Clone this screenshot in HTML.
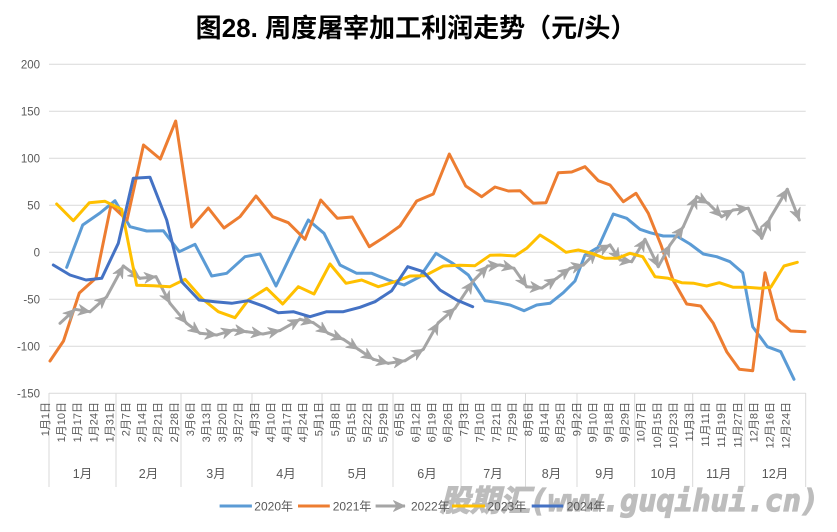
<!DOCTYPE html>
<html><head><meta charset="utf-8"><style>
html,body{margin:0;padding:0;background:#fff;}
svg{display:block;}
.yl{font-family:"Liberation Sans","Noto Sans CJK SC",sans-serif;font-size:11.5px;fill:#595959;text-anchor:end;}
.xl{font-family:"Liberation Sans","Noto Sans CJK SC",sans-serif;font-size:11px;fill:#595959;text-anchor:end;}
.ml{font-family:"Liberation Sans","Noto Sans CJK SC",sans-serif;font-size:12.5px;fill:#595959;text-anchor:middle;}
.lg{font-family:"Liberation Sans","Noto Sans CJK SC",sans-serif;font-size:12px;fill:#595959;}
</style></head><body>
<svg width="837" height="532" viewBox="0 0 837 532" xmlns="http://www.w3.org/2000/svg">
<defs>
<marker id="ar" markerUnits="userSpaceOnUse" markerWidth="20" markerHeight="20" refX="16" refY="10" orient="auto" viewBox="0 0 20 20">
<path d="M16,10 L4.5,4.6 L8,10 L4.5,15.4 Z" fill="#A5A5A5" stroke="#A5A5A5" stroke-width="0.8" stroke-linejoin="round"/>
</marker>
</defs>
<rect width="837" height="532" fill="#fff"/>
<!-- title -->
<text x="416" y="37" text-anchor="middle" font-family="'Liberation Sans','Noto Sans CJK SC',sans-serif" font-size="26" font-weight="bold" fill="#000">图<tspan font-family="'Liberation Sans',sans-serif">28.</tspan> 周度屠宰加工利润走势（元<tspan font-family="'Liberation Sans',sans-serif">/</tspan>头）</text>
<!-- gridlines -->
<g stroke="#D9D9D9" stroke-width="1">
<line x1="49" y1="64.3" x2="805.7" y2="64.3"/>
<line x1="49" y1="111.3" x2="805.7" y2="111.3"/>
<line x1="49" y1="158.3" x2="805.7" y2="158.3"/>
<line x1="49" y1="205.3" x2="805.7" y2="205.3"/>
<line x1="49" y1="252.3" x2="805.7" y2="252.3"/>
<line x1="49" y1="299.3" x2="805.7" y2="299.3"/>
<line x1="49" y1="346.3" x2="805.7" y2="346.3"/>
<line x1="49" y1="393.3" x2="805.7" y2="393.3"/>
<line x1="49" y1="393" x2="49" y2="487"/>
<line x1="116" y1="393" x2="116" y2="487"/>
<line x1="181" y1="393" x2="181" y2="487"/>
<line x1="252" y1="393" x2="252" y2="487"/>
<line x1="322" y1="393" x2="322" y2="487"/>
<line x1="393" y1="393" x2="393" y2="487"/>
<line x1="461" y1="393" x2="461" y2="487"/>
<line x1="525.5" y1="393" x2="525.5" y2="487"/>
<line x1="577" y1="393" x2="577" y2="487"/>
<line x1="634.7" y1="393" x2="634.7" y2="487"/>
<line x1="692.7" y1="393" x2="692.7" y2="487"/>
<line x1="744.7" y1="393" x2="744.7" y2="487"/>
<line x1="805.7" y1="393" x2="805.7" y2="487"/>
</g>
<!-- y labels -->
<text class="yl" x="40" y="68.5">200</text>
<text class="yl" x="40" y="115.5">150</text>
<text class="yl" x="40" y="162.5">100</text>
<text class="yl" x="40" y="209.5">50</text>
<text class="yl" x="40" y="256.5">0</text>
<text class="yl" x="40" y="303.5">-50</text>
<text class="yl" x="40" y="350.5">-100</text>
<text class="yl" x="40" y="397.5">-150</text>
<!-- x labels -->
<text class="xl" transform="translate(49,402) rotate(-90)">1月1日</text>
<text class="xl" transform="translate(65.1,402) rotate(-90)">1月10日</text>
<text class="xl" transform="translate(81.2,402) rotate(-90)">1月17日</text>
<text class="xl" transform="translate(97.3,402) rotate(-90)">1月24日</text>
<text class="xl" transform="translate(113.4,402) rotate(-90)">1月31日</text>
<text class="xl" transform="translate(129.5,402) rotate(-90)">2月7日</text>
<text class="xl" transform="translate(145.6,402) rotate(-90)">2月14日</text>
<text class="xl" transform="translate(161.7,402) rotate(-90)">2月21日</text>
<text class="xl" transform="translate(177.8,402) rotate(-90)">2月28日</text>
<text class="xl" transform="translate(193.9,402) rotate(-90)">3月6日</text>
<text class="xl" transform="translate(210,402) rotate(-90)">3月13日</text>
<text class="xl" transform="translate(226.1,402) rotate(-90)">3月20日</text>
<text class="xl" transform="translate(242.2,402) rotate(-90)">3月27日</text>
<text class="xl" transform="translate(258.3,402) rotate(-90)">4月3日</text>
<text class="xl" transform="translate(274.4,402) rotate(-90)">4月10日</text>
<text class="xl" transform="translate(290.5,402) rotate(-90)">4月17日</text>
<text class="xl" transform="translate(306.6,402) rotate(-90)">4月24日</text>
<text class="xl" transform="translate(322.7,402) rotate(-90)">5月1日</text>
<text class="xl" transform="translate(338.8,402) rotate(-90)">5月8日</text>
<text class="xl" transform="translate(354.9,402) rotate(-90)">5月15日</text>
<text class="xl" transform="translate(371,402) rotate(-90)">5月22日</text>
<text class="xl" transform="translate(387.1,402) rotate(-90)">5月29日</text>
<text class="xl" transform="translate(403.2,402) rotate(-90)">6月5日</text>
<text class="xl" transform="translate(419.3,402) rotate(-90)">6月12日</text>
<text class="xl" transform="translate(435.4,402) rotate(-90)">6月19日</text>
<text class="xl" transform="translate(451.5,402) rotate(-90)">6月26日</text>
<text class="xl" transform="translate(467.6,402) rotate(-90)">7月3日</text>
<text class="xl" transform="translate(483.7,402) rotate(-90)">7月10日</text>
<text class="xl" transform="translate(499.8,402) rotate(-90)">7月21日</text>
<text class="xl" transform="translate(515.9,402) rotate(-90)">7月29日</text>
<text class="xl" transform="translate(532,402) rotate(-90)">8月6日</text>
<text class="xl" transform="translate(548.1,402) rotate(-90)">8月14日</text>
<text class="xl" transform="translate(564.2,402) rotate(-90)">8月25日</text>
<text class="xl" transform="translate(580.3,402) rotate(-90)">9月2日</text>
<text class="xl" transform="translate(596.4,402) rotate(-90)">9月10日</text>
<text class="xl" transform="translate(612.5,402) rotate(-90)">9月18日</text>
<text class="xl" transform="translate(628.6,402) rotate(-90)">9月29日</text>
<text class="xl" transform="translate(644.7,402) rotate(-90)">10月7日</text>
<text class="xl" transform="translate(660.8,402) rotate(-90)">10月15日</text>
<text class="xl" transform="translate(676.9,402) rotate(-90)">10月23日</text>
<text class="xl" transform="translate(693,402) rotate(-90)">11月3日</text>
<text class="xl" transform="translate(709.1,402) rotate(-90)">11月11日</text>
<text class="xl" transform="translate(725.2,402) rotate(-90)">11月19日</text>
<text class="xl" transform="translate(741.3,402) rotate(-90)">11月27日</text>
<text class="xl" transform="translate(757.4,402) rotate(-90)">12月8日</text>
<text class="xl" transform="translate(773.5,402) rotate(-90)">12月16日</text>
<text class="xl" transform="translate(789.6,402) rotate(-90)">12月24日</text>
<!-- month labels -->
<text class="ml" x="82.5" y="478">1月</text>
<text class="ml" x="148.5" y="478">2月</text>
<text class="ml" x="216" y="478">3月</text>
<text class="ml" x="286" y="478">4月</text>
<text class="ml" x="357.5" y="478">5月</text>
<text class="ml" x="427" y="478">6月</text>
<text class="ml" x="493" y="478">7月</text>
<text class="ml" x="551.5" y="478">8月</text>
<text class="ml" x="605" y="478">9月</text>
<text class="ml" x="663.7" y="478">10月</text>
<text class="ml" x="718.7" y="478">11月</text>
<text class="ml" x="775" y="478">12月</text>
<!-- series -->
<g fill="none" stroke-width="3" stroke-linejoin="round" stroke-linecap="round">
<polyline stroke="#5B9BD5" points="66.7,267.3 82.7,225 100,213 115,200.7 130,226.7 146.7,231 163.3,230.7 179.3,251.7 195,244.3 211.7,276 226.7,273.3 245,256.7 260,254 276,286 291.7,253.3 308.3,220 324,233.3 340,265 356.7,273.3 371.7,273.3 388.3,280 404,285 420,276.7 436,253.3 452.7,263.3 468.3,275 485,300.7 498.3,302.7 510,305 524,310.7 536.7,305 550,303.3 563.3,292.7 575,281 585,255 598.3,247.3 613.3,214 626.7,218.3 640,229.3 650,232.7 663.3,236 676.7,236 690,244 703.3,254 716.7,256.7 730,261.7 742.7,272.7 752.7,326.7 767.3,346.7 780.7,351.7 794,379.3"/>
<polyline stroke="#ED7D31" points="50,361 63.5,341 79.3,293 96,278 111,205 127,220 143.5,145 160.3,159 175.7,121 191.7,227 208.3,208 224,228 240,216.7 256,196 272.7,216.7 288.3,222.7 305,239.3 320.7,200 337.3,218.3 352.3,217 369.3,246.7 385,236.7 400,226 416.7,201 433.3,194 449.3,154 465.7,186 481.7,196.7 495,187 508.3,191 520,190.7 533.3,203.3 546,202.7 558.3,172.7 571.7,172 585,166.7 598.3,180.7 610,185 623.3,201.7 636,193.3 648.3,213.3 661,245 673,280 686.7,304 700.7,306 713.3,323.3 726.7,351.7 739.3,369.3 752.7,370.7 765,272.7 777.3,319.3 790.7,331 805,331.7"/>
<g stroke="#A5A5A5" marker-end="url(#ar)">
<line x1="60" y1="323.3" x2="75" y2="309.3"/>
<line x1="75" y1="309.3" x2="90" y2="311.7"/>
<line x1="90" y1="311.7" x2="106.7" y2="296.7"/>
<line x1="106.7" y1="296.7" x2="123.3" y2="266"/>
<line x1="123.3" y1="266" x2="140" y2="278.3"/>
<line x1="140" y1="278.3" x2="156" y2="276.7"/>
<line x1="156" y1="276.7" x2="170" y2="303.3"/>
<line x1="170" y1="303.3" x2="186.7" y2="323.3"/>
<line x1="186.7" y1="323.3" x2="200" y2="333.3"/>
<line x1="200" y1="333.3" x2="216.7" y2="335"/>
<line x1="216.7" y1="335" x2="233.3" y2="330"/>
<line x1="233.3" y1="330" x2="246.7" y2="331.7"/>
<line x1="246.7" y1="331.7" x2="263" y2="334"/>
<line x1="263" y1="334" x2="280" y2="330.5"/>
<line x1="280" y1="330.5" x2="300" y2="319.3"/>
<line x1="300" y1="319.3" x2="313.3" y2="322.7"/>
<line x1="313.3" y1="322.7" x2="328.3" y2="333.3"/>
<line x1="328.3" y1="333.3" x2="343.3" y2="339.3"/>
<line x1="343.3" y1="339.3" x2="358.3" y2="349.3"/>
<line x1="358.3" y1="349.3" x2="373.3" y2="359.3"/>
<line x1="373.3" y1="359.3" x2="388.3" y2="363.3"/>
<line x1="388.3" y1="363.3" x2="405" y2="360.7"/>
<line x1="405" y1="360.7" x2="423.3" y2="349.3"/>
<line x1="423.3" y1="349.3" x2="438.3" y2="322.7"/>
<line x1="438.3" y1="322.7" x2="455" y2="308.3"/>
<line x1="455" y1="308.3" x2="472.7" y2="281.7"/>
<line x1="472.7" y1="281.7" x2="487.7" y2="266"/>
<line x1="487.7" y1="266" x2="500" y2="265"/>
<line x1="500" y1="265" x2="514" y2="268.3"/>
<line x1="514" y1="268.3" x2="526.7" y2="286.7"/>
<line x1="526.7" y1="286.7" x2="542" y2="288"/>
<line x1="542" y1="288" x2="556.7" y2="278.3"/>
<line x1="556.7" y1="278.3" x2="570" y2="268.3"/>
<line x1="570" y1="268.3" x2="583.3" y2="265"/>
<line x1="583.3" y1="265" x2="596.7" y2="251.7"/>
<line x1="596.7" y1="251.7" x2="610" y2="245"/>
<line x1="610" y1="245" x2="620" y2="260"/>
<line x1="620" y1="260" x2="631.7" y2="261.7"/>
<line x1="631.7" y1="261.7" x2="645" y2="239.3"/>
<line x1="645" y1="239.3" x2="658.3" y2="266.7"/>
<line x1="658.3" y1="266.7" x2="670" y2="245"/>
<line x1="670" y1="245" x2="683.3" y2="226.7"/>
<line x1="683.3" y1="226.7" x2="696.7" y2="196.7"/>
<line x1="696.7" y1="196.7" x2="708.3" y2="203.3"/>
<line x1="708.3" y1="203.3" x2="721.7" y2="216.7"/>
<line x1="721.7" y1="216.7" x2="733.3" y2="210"/>
<line x1="733.3" y1="210" x2="748.3" y2="208.3"/>
<line x1="748.3" y1="208.3" x2="761.7" y2="238.3"/>
<line x1="761.7" y1="238.3" x2="770" y2="218.3"/>
<line x1="770" y1="218.3" x2="787.3" y2="189.3"/>
<line x1="787.3" y1="189.3" x2="799.3" y2="220"/>
</g>
<polyline stroke="#FFC000" points="56.7,204 73.3,220.7 89.3,202.7 105,201.3 121.7,209.3 136.7,285.3 153.3,285.7 170,286.7 185,279.3 201.7,298.3 218.3,311.7 235,317.7 248.3,300 266.7,288.3 282.7,304 298.3,286.7 314,294 330,264 346,283.3 361.7,280 378.3,286.7 395,281.7 410,276 425,275.7 443.3,266 460,265.3 475,265.7 490,255.3 500,255 515,256 526.7,248.3 540,235 553.3,243.3 566,252.3 578.3,250 591.7,253.3 605,258.3 617.3,258.3 630,253.3 642.7,256.7 655,276.7 668.3,278.3 681.7,282.7 694,283.3 706.7,286 719.3,282.7 733.3,287.3 746.7,287.3 760,288.3 770.7,287.3 784,266 797.3,262.3"/>
<polyline stroke="#4472C4" points="53.3,265 70,275 86,280 101.7,278.3 118.3,243.3 133.3,178.3 150,177.3 166.7,220 181.7,281.7 199,300 215,301.7 231.7,303.3 248.3,300.7 265,306.7 278.3,312.7 293.3,311.7 310,316.7 326.7,311.7 343.3,311.7 360,307.3 375,301.7 391.7,290.7 407.7,266.7 423.3,271.7 440,290 456.7,300 472.7,306.7"/>
</g>
<!-- watermark -->
<text x="440" y="511" font-size="30" font-weight="bold" font-style="italic" fill="#bdbdbd" stroke="#bdbdbd" stroke-width="1.2"><tspan font-family="'Noto Sans CJK SC',sans-serif">股期汇</tspan><tspan font-family="'DejaVu Sans Mono','Liberation Mono',monospace">(www.guqihui.cn)</tspan></text>
<!-- legend -->
<g stroke-width="3" stroke-linecap="butt">
<line x1="219.6" y1="506" x2="251.9" y2="506" stroke="#5B9BD5"/>
<line x1="298" y1="506" x2="329.8" y2="506" stroke="#ED7D31"/>
<line x1="375.6" y1="506" x2="405" y2="506" stroke="#A5A5A5" marker-end="url(#ar)"/>
<line x1="452" y1="506" x2="485" y2="506" stroke="#FFC000"/>
<line x1="531.7" y1="506" x2="563.3" y2="506" stroke="#4472C4"/>
</g>
<text class="lg" x="254.3" y="510.5">2020年</text>
<text class="lg" x="332.7" y="510.5">2021年</text>
<text class="lg" x="411" y="510.5">2022年</text>
<text class="lg" x="487.5" y="510.5">2023年</text>
<text class="lg" x="566.7" y="510.5">2024年</text>
</svg>
</body></html>
